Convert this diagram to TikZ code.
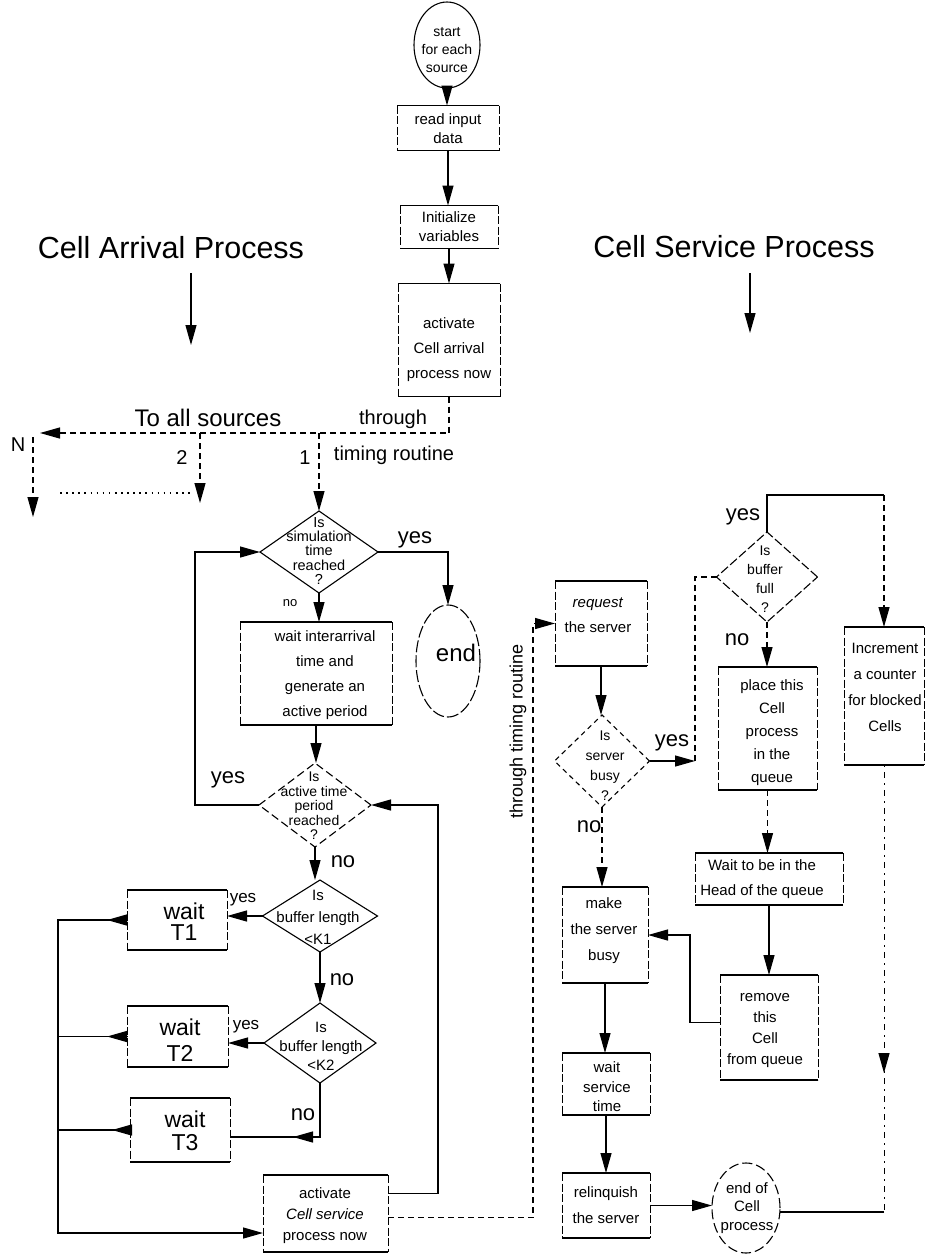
\documentclass[tikz,border=0pt]{standalone}
\usepackage{fontspec}
\setmainfont{Liberation Sans}
\usetikzlibrary{arrows.meta,shapes.geometric,calc}

\tikzset{
  tx/.style n args={2}{font=\fontsize{#1pt}{#2pt}\selectfont, align=center, inner sep=0pt},
  lbl/.style={font=\fontsize{22pt}{24pt}\selectfont, inner sep=0pt},
  ln/.style={draw, line width=1.2pt},
  tip/.style={-{Triangle[length=20pt,width=11pt]}},
  arr/.style={ln, tip},
  dln/.style={ln, dash pattern=on 6pt off 4pt},
  darr/.style={dln, tip},
  dotl/.style={draw, line width=1.6pt, dash pattern=on 1.6pt off 4.5pt},
  dotv/.style={draw, line width=0.9pt, dash pattern=on 2pt off 5pt on 6pt off 5pt},
  hedge/.style={draw, line width=1.3pt},
  vedge/.style={draw, line width=0.9pt, dash pattern=on 8pt off 2.5pt},
  pbox/.style={rectangle, inner sep=0pt, outer sep=0pt,
    append after command={
      (\tikzlastnode.north west) edge[hedge] (\tikzlastnode.north east)
      (\tikzlastnode.south west) edge[hedge] (\tikzlastnode.south east)
      (\tikzlastnode.north west) edge[vedge] (\tikzlastnode.south west)
      (\tikzlastnode.north east) edge[vedge] (\tikzlastnode.south east)}},
  dia/.style={diamond, draw, line width=1.1pt, inner sep=0pt, outer sep=0pt},
  oval/.style={ellipse, draw, line width=1.1pt, inner sep=0pt, outer sep=0pt},
}

\begin{document}
\begin{tikzpicture}[x=1pt,y=-1pt]
\useasboundingbox (0,0) rectangle (930,1254);

% ---------- headings ----------
\node[tx={30.5}{34}] (arrT) at (171,248) {Cell Arrival Process};
\node[tx={30.5}{34}] (srvT) at (734,247) {Cell Service Process};
\coordinate (arrA) at (191,273);
\coordinate (srvA) at (750,273);

% ---------- initialisation column ----------
\node[oval, minimum width=66pt, minimum height=86pt] (start) at (447,45) {};
\node[tx={14}{18}] (startT) at (447,50) {start\\for each\\source};
\node[pbox, minimum width=102pt, minimum height=45pt] (read) at (448,128) {};
\node[tx={15}{19}] (readT) at (448,129) {read input\\data};
\node[pbox, minimum width=98pt, minimum height=43pt] (init) at (449,227) {};
\node[tx={15}{19}] (initT) at (449,227) {Initialize\\variables};
\node[pbox, minimum width=102pt, minimum height=113pt] (actA) at (449,340) {};
\node[tx={15}{25}] (actAT) at (449,350) {activate\\Cell arrival\\process now};

% ---------- cell arrival process ----------
\node[dia, minimum width=118pt, minimum height=82pt] (sim) at (319,552) {};
\node[tx={14.5}{14.3}] (simT) at (319,551) {Is\\simulation\\time\\reached\\?};
\node[oval, dash pattern=on 12pt off 3pt, minimum width=64pt, minimum height=112pt] (end) at (448,661) {};
\node[tx={24}{26}] (endT) at (456,653) {end};
\node[pbox, minimum width=152pt, minimum height=103pt] (wia) at (316,673.5) {};
\node[tx={15}{25}] (wiaT) at (325,675) {wait interarrival\\time and\\generate an\\active period};
\node[dia, dash pattern=on 8pt off 4pt, minimum width=112pt, minimum height=84pt] (at) at (315,805) {};
\node[tx={14}{14.5}] (atT) at (314,806) {Is\\active time\\period\\reached\\?};
\node[dia, minimum width=115pt, minimum height=72pt] (k1) at (320,916) {};
\node[tx={15}{22}] (k1T) at (318,917) {Is\\buffer length\\{<}K1};
\node[dia, minimum width=112pt, minimum height=80pt] (k2) at (320,1043) {};
\node[tx={15}{19}] (k2T) at (321,1046) {Is\\buffer length\\{<}K2};
\node[pbox, minimum width=100pt, minimum height=60pt] (t1) at (177,920) {};
\node[tx={23}{21}] (t1T) at (184,922) {wait\\T1};
\node[pbox, minimum width=101pt, minimum height=61pt] (t2) at (177.5,1036.5) {};
\node[tx={23}{26}] (t2T) at (180,1040) {wait\\T2};
\node[pbox, minimum width=100pt, minimum height=64pt] (t3) at (180,1130) {};
\node[tx={23}{23}] (t3T) at (185,1131) {wait\\T3};
\node[pbox, minimum width=125pt, minimum height=77pt] (actS) at (325.5,1213.5) {};
\node[tx={15}{21}] (actST) at (325,1216) {activate\\\textit{Cell service}\\process now};

% ---------- cell service process ----------
\node[pbox, minimum width=92pt, minimum height=85pt] (req) at (601,623.5) {};
\node[tx={15}{25}] (reqT) at (598,615) {\textit{request}\\the server};
\node[dia, dash pattern=on 5pt off 4pt, minimum width=95pt, minimum height=92pt] (busy) at (602,761) {};
\node[tx={14}{20}] (busyT) at (605,766) {Is\\server\\busy\\?};
\node[dia, dash pattern=on 9pt off 3pt, minimum width=101pt, minimum height=90pt] (full) at (767,577) {};
\node[tx={14}{19}] (fullT) at (765,579) {Is\\buffer\\full\\?};
\node[pbox, minimum width=99pt, minimum height=123pt] (place) at (767.5,728.5) {};
\node[tx={15}{23}] (placeT) at (772,733) {place this\\Cell\\process\\in the\\queue};
\node[pbox, minimum width=80pt, minimum height=138pt] (inc) at (884,696) {};
\node[tx={15}{26}] (incT) at (885,687) {Increment\\a counter\\for blocked\\Cells};
\node[pbox, minimum width=148pt, minimum height=52pt] (head) at (769,879) {};
\node[tx={15}{25}] (headT) at (762,879) {Wait to be in the\\Head of the queue};
\node[pbox, minimum width=98pt, minimum height=105pt] (rem) at (769,1027.5) {};
\node[tx={15}{21}] (remT) at (765,1031) {remove\\this\\Cell\\from queue};
\node[pbox, minimum width=86pt, minimum height=96pt] (make) at (605,935) {};
\node[tx={15}{26}] (makeT) at (604,931) {make\\the server\\busy};
\node[pbox, minimum width=88pt, minimum height=62pt] (ws) at (606,1084) {};
\node[tx={15}{19.5}] (wsT) at (607,1087) {wait\\service\\time};
\node[pbox, minimum width=88pt, minimum height=65pt] (rel) at (606,1205.5) {};
\node[tx={15}{26}] (relT) at (606,1205) {relinquish\\the server};
\node[oval, dash pattern=on 10pt off 4pt, minimum width=68pt, minimum height=90pt] (endc) at (746,1208) {};
\node[tx={15}{18.5}] (endcT) at (747,1208) {end of\\Cell\\process};

% ---------- free labels ----------
\node[tx={24}{26}] (srcL) at (208,418) {To all sources};
\node[tx={20}{22}] (thrL) at (393,419) {through};
\node[tx={20}{22}] (tmrL) at (394,455) {timing routine};
\node[tx={20}{22}] (nL) at (18,445) {N};
\node[tx={20}{22}] (twoL) at (182,458) {2};
\node[tx={20}{22}] (oneL) at (305,458) {1};
\node[tx={18}{20}, rotate=90] (thrV) at (518,731) {through timing routine};
\node[lbl] (simY) at (415,540) {yes};
\node[tx={13}{15}] (simN) at (290,603) {no};
\node[lbl] (atY) at (228,780) {yes};
\node[lbl] (atN) at (343,862) {no};
\node[lbl] (k1N) at (342,980) {no};
\node[tx={17}{19}] (k1Y) at (243,900) {yes};
\node[tx={17}{19}] (k2Y) at (246,1027) {yes};
\node[lbl] (k2N) at (303,1115) {no};
\node[lbl] (busyY) at (672,743) {yes};
\node[lbl] (busyN) at (589,827) {no};
\node[lbl] (fullY) at (743,517) {yes};
\node[lbl] (fullN) at (737,640) {no};

% ---------- connectors: headings ----------
\draw[arr] (arrA) -- ++(0,72);
\draw[arr] (srvA) -- ++(0,60);

% ---------- connectors: initialisation ----------
\draw[arr] (start.south) -- (start.south |- read.north);
\draw[arr] (read.south) -- (read.south |- init.north);
\draw[arr] (init.south) -- (init.south |- actA.north);
\coordinate (nEnd) at (40,433);
\draw[darr] (actA.south) |- (nEnd);
\coordinate (nTop) at (33,437);
\draw[darr] (nTop) -- ++(0,80);
\coordinate (b2) at (200,433);
\draw[darr] (b2) -- ++(0,70);
\coordinate (dotA) at (60,493);
\coordinate (dotB) at (193,493);
\draw[dotl] (dotA) -- (dotB);
\draw[darr] (sim.north |- nEnd) -- (sim.north);

% ---------- connectors: arrival ----------
\draw[arr] (sim.east) -| (end.north);
\draw[arr] (sim.south) -- (sim.south |- wia.north);
\draw[arr] (wia.south) -- (wia.south |- at.north);
\coordinate (loopL) at (195,0);
\draw[arr] (at.west) -- (at.west -| loopL) |- (sim.west);
\coordinate (loopR) at (438,0);
\coordinate (actSo) at ($(actS.east)+(0,-20)$);
\draw[arr] (actSo) -| (loopR |- at.east) -- (at.east);
\draw[arr] (at.south) -- (at.south |- k1.north);
\draw[arr] (k1.west) -- (k1.west -| t1.east);
\draw[arr] (k1.south) -- (k1.south |- k2.north);
\draw[arr] (k2.west) -- (k2.west -| t2.east);
\coordinate (k2no) at (320,1137);
\draw[ln] (k2.south) -- (k2no) -- (k2no -| t3.east);
\draw[arr] (k2no) -- ++(-27,0);
\coordinate (busTop) at (58,920);
\coordinate (busBot) at (58,1233);
\draw[arr] (t1.west) -- (busTop) -- (busBot) -- (busBot -| actS.west);
\draw[arr] (t1.west) -- ++(-20,0);
\draw[ln] (t2.west) -- (t2.west -| busTop);
\draw[arr] (t2.west) -- ++(-20,0);
\draw[ln] (t3.west) -- (t3.west -| busTop);
\draw[arr] (t3.west) -- ++(-18,0);

% ---------- connectors: service ----------
\coordinate (thr) at (533,0);
\coordinate (actSd) at ($(actS.east)+(0,4)$);
\draw[darr] (actSd) -| (thr |- req.west) -- (req.west);
\draw[arr] (req.south) -- (req.south |- busy.north);
\coordinate (yv) at (695,0);
\draw[arr] (busy.east) -- (busy.east -| yv);
\draw[dln] (busy.east -| yv) |- (full.west);
\coordinate (fy) at (884,495);
\draw[ln] (full.north) |- (fy);
\draw[darr] (fy) -- (inc.north);
\draw[darr] (full.south) -- (full.south |- place.north);
\draw[darr] (place.south) -- (place.south |- head.north);
\draw[arr] (head.south) -- (head.south |- rem.north);
\coordinate (rm) at (690,0);
\coordinate (remo) at ($(rem.west)+(0,-5)$);
\draw[arr] (remo) -| (rm |- make.east) -- (make.east);
\draw[darr] (busy.south) -- (busy.south |- make.north);
\draw[arr] (make.south) -- (make.south |- ws.north);
\draw[arr] (ws.south) -- (ws.south |- rel.north);
\draw[arr] (rel.east) -- (rel.east -| endc.west);
\coordinate (ic) at (884,1212);
\coordinate (incA) at (884,1073);
\draw[dotv] (inc.south) -- (ic);
\draw[arr] ($(incA)+(0,-20)$) -- (incA);
\draw[ln] (ic) -- (ic -| endc.east);
\end{tikzpicture}
\end{document}
